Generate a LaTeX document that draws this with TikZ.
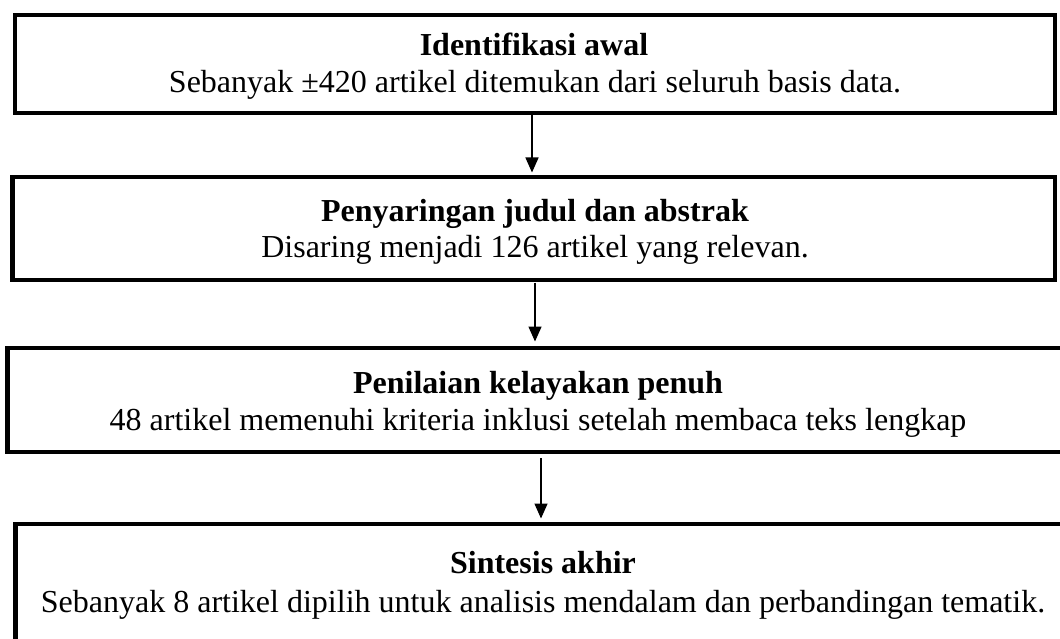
\documentclass[tikz,border=0pt]{standalone}
\usepackage{fontspec}
\setmainfont{Liberation Serif}
\usetikzlibrary{arrows.meta}
\begin{document}
\begin{tikzpicture}[x=1pt,y=-1pt,
  box/.style={draw=black,line width=4.5pt,inner sep=0pt,outer sep=0pt,fill=white},
  ttl/.style={anchor=base,inner sep=0pt,font=\fontsize{32}{37}\selectfont\bfseries},
  bdy/.style={anchor=base,inner sep=0pt,font=\fontsize{32}{37}\selectfont},
  arr/.style={line width=1.5pt,-{Triangle[width=13pt,length=15pt]}}]
\useasboundingbox (0,0) rectangle (1060,639);
\begin{scope}
\clip (0,0) rectangle (1060,639);
\node[box,minimum width=1040pt,minimum height=98pt] (b1) at (535,64) {};
\node[box,minimum width=1042.5pt,minimum height=103pt] (b2) at (533.75,228.5) {};
\node[box,minimum width=1058.5pt,minimum height=104pt] (b3) at (536.75,400) {};
\node[box,minimum width=1050.5pt,minimum height=131pt] (b4) at (540.75,589.5) {};
\end{scope}
\node[ttl] (t1) at (534,56) {Identifikasi awal};
\node[bdy] (d1) at (535,93) {Sebanyak ±420 artikel ditemukan dari seluruh basis data.};
\node[ttl] (t2) at (535,222) {Penyaringan judul dan abstrak};
\node[bdy] (d2) at (535,258) {Disaring menjadi 126 artikel yang relevan.};
\node[ttl] (t3) at (538,393) {Penilaian kelayakan penuh};
\node[bdy] (d3) at (538,430) {48 artikel memenuhi kriteria inklusi setelah membaca teks lengkap};
\node[ttl] (t4) at (543,573) {Sintesis akhir};
\node[bdy] (d4) at (543,612) {Sebanyak 8 artikel dipilih untuk analisis mendalam dan perbandingan tematik.};
\coordinate (a1) at (532,0);
\coordinate (a2) at (535,0);
\coordinate (a3) at (541,0);
\draw[arr,shorten <=1.5pt,shorten >=4.5pt] (b1.south -| a1) -- (b2.north -| a1);
\draw[arr,shorten <=2.5pt,shorten >=6.5pt] (b2.south -| a2) -- (b3.north -| a2);
\draw[arr,shorten <=6pt,shorten >=5.5pt] (b3.south -| a3) -- (b4.north -| a3);
\end{tikzpicture}
\end{document}
